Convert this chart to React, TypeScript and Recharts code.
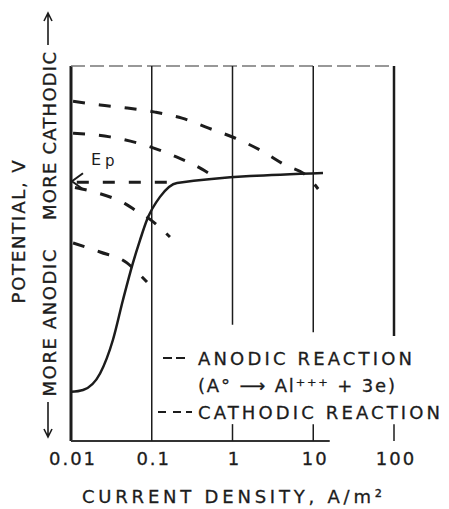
import { LineChart, Line, XAxis, YAxis, ReferenceLine, ReferenceDot, Customized } from "recharts";

// current density ticks (log scale)
const xTicks = [0.01, 0.1, 1, 10, 100];
const xTickLabels = ["0.01", "0.1", "1", "10", "100"];

// potential is unitless here, 0 = bottom of the frame, 100 = top
const anodic = [
  { x: 0.01, y: 13.1 },
  { x: 0.0141, y: 13.6 },
  { x: 0.0229, y: 18 },
  { x: 0.0331, y: 27 },
  { x: 0.044, y: 37.6 },
  { x: 0.0585, y: 47.5 },
  { x: 0.0714, y: 53.5 },
  { x: 0.0873, y: 59 },
  { x: 0.1265, y: 65.1 },
  { x: 0.2055, y: 68.8 },
  { x: 13.2, y: 71.5 },
];

const cathodicA = [
  { x: 0.0106, y: 90.6 },
  { x: 0.0229, y: 89.6 },
  { x: 0.0493, y: 88.8 },
  { x: 0.1096, y: 87.7 },
  { x: 0.237, y: 86.1 },
  { x: 0.497, y: 83.5 },
  { x: 1.07, y: 80.8 },
  { x: 2.19, y: 77.6 },
  { x: 4.47, y: 73.6 },
  { x: 8.61, y: 70.4 },
  { x: 11.5, y: 67.2 },
];

const cathodicB = [
  { x: 0.0106, y: 82.1 },
  { x: 0.0304, y: 81.1 },
  { x: 0.0824, y: 78.9 },
  { x: 0.2055, y: 75.7 },
  { x: 0.419, y: 72.5 },
  { x: 0.574, y: 70.7 },
];

const cathodicC = [
  { x: 0.0112, y: 67.6 },
  { x: 0.021, y: 66.2 },
  { x: 0.0467, y: 63.3 },
  { x: 0.0676, y: 61.1 },
  { x: 0.0899, y: 59.5 },
  { x: 0.116, y: 57.6 },
  { x: 0.168, y: 54.4 },
];

const cathodicD = [
  { x: 0.0106, y: 52.8 },
  { x: 0.0229, y: 50.4 },
  { x: 0.0493, y: 47.5 },
  { x: 0.0714, y: 44.3 },
  { x: 0.0873, y: 42.4 },
];

const epLevel = 69;
const epLine = [
  { x: 0.0118, y: epLevel },
  { x: 0.2, y: epLevel },
];

// vertical frame / grid lines and how far down they reach
const gridX = [0.1, 1, 10, 100];
const gridLow = [0, 31, 29, 28];
const tickMarks = [1, 10, 100];

const FONT = "'DejaVu Sans', sans-serif";
const INK = "#1c1c1c";
const DASH = "12 14";

const XTick = (props: any) => {
  const { x, y, payload } = props;
  const i = xTicks.indexOf(payload.value);
  return (
    <text x={x + 2} y={y} dy={24} textAnchor="middle" fontSize={18} fontFamily={FONT} fill={INK} stroke={INK} strokeWidth={0.3} letterSpacing={2}>
      {xTickLabels[i]}
    </text>
  );
};

const EpMarker = (props: any) => {
  const { x, y } = props.viewBox;
  return (
    <g>
      <path d={`M${x + 13},${y - 8} L${x + 2},${y} L${x + 13},${y + 8}`} fill="none" stroke={INK} strokeWidth={2} />
      <text x={x + 21} y={y - 16} fontSize={16} fontFamily={FONT} fill={INK}>E</text>
      <text x={x + 35} y={y - 15} fontSize={15} fontFamily={FONT} fill={INK}>p</text>
    </g>
  );
};

const Texts = () => (
  <g fontFamily={FONT} fill={INK} stroke={INK} strokeWidth={0.3} fontSize={18}>
    {/* y axis titles */}
    <text x={18} y={232} transform="rotate(-90 18 232)" textAnchor="middle" dominantBaseline="central" textLength={143} lengthAdjust="spacing">
      POTENTIAL, V
    </text>
    <text x={49} y={323} transform="rotate(-90 49 323)" textAnchor="middle" dominantBaseline="central" textLength={147} lengthAdjust="spacing">
      MORE ANODIC
    </text>
    <text x={49} y={136} transform="rotate(-90 49 136)" textAnchor="middle" dominantBaseline="central" textLength={168} lengthAdjust="spacing">
      MORE CATHODIC
    </text>
    <path d="M48,402 L48,437 M44,429 L48,437 L52,429" fill="none" stroke={INK} strokeWidth={1.6} />
    <path d="M48,45 L48,13 M44,21 L48,13 L52,21" fill="none" stroke={INK} strokeWidth={1.6} />

    {/* x axis title */}
    <text x={232} y={503} textAnchor="middle" textLength={300} lengthAdjust="spacing">
      CURRENT DENSITY, A/m²
    </text>

    {/* legend */}
    <path d="M163,358 L172,358 M176,358 L185,358" stroke={INK} strokeWidth={2} />
    <text x={198} y={365} textLength={214} lengthAdjust="spacing">ANODIC REACTION</text>
    <text x={198} y={392} textLength={197} lengthAdjust="spacing">(A° ⟶ Al⁺⁺⁺ + 3e)</text>
    <path d="M158,412 L166,412 M173,412 L181,412 M186,412 L192,412" stroke={INK} strokeWidth={2} />
    <text x={198} y={419} textLength={242} lengthAdjust="spacing">CATHODIC REACTION</text>
  </g>
);

export default function App() {
  return (
    <div style={{ position: "absolute", left: 0, top: 0, background: "#fff" }}>
      <LineChart width={449} height={509} margin={{ top: 66, right: 55, bottom: 48, left: 71 }}>
        <XAxis
          dataKey="x"
          type="number"
          scale="log"
          domain={[0.01, 100]}
          ticks={xTicks}
          allowDataOverflow
          axisLine={false}
          tickLine={false}
          tickSize={0}
          tickMargin={0}
          height={20}
          tick={<XTick />}
        />
        <YAxis type="number" domain={[0, 100]} hide allowDataOverflow />

        {/* frame */}
        <ReferenceLine segment={[{ x: 0.01, y: 0 }, { x: 0.01, y: 100 }]} stroke={INK} strokeWidth={3} ifOverflow="visible" />
        <ReferenceLine segment={[{ x: 0.01, y: 100 }, { x: 100, y: 100 }]} stroke="#777" strokeWidth={1.5} strokeDasharray="14 5" ifOverflow="visible" />
        <ReferenceLine segment={[{ x: 0.01, y: 0 }, { x: 16, y: 0 }]} stroke="#333" strokeWidth={2} ifOverflow="visible" />
        {gridX.map((gx, i) => (
          <ReferenceLine
            key={`g${gx}`}
            segment={[{ x: gx, y: gridLow[i] }, { x: gx, y: 100 }]}
            stroke={INK}
            strokeWidth={gx === 100 ? 2.5 : 1.5}
            ifOverflow="visible"
          />
        ))}
        {tickMarks.map((tx) => (
          <ReferenceLine key={`t${tx}`} segment={[{ x: tx, y: 0 }, { x: tx, y: 4.5 }]} stroke={INK} strokeWidth={1.5} ifOverflow="visible" />
        ))}

        {/* cathodic reactions */}
        {[cathodicA, cathodicB, cathodicC, cathodicD].map((d, i) => (
          <Line
            key={`c${i}`}
            data={d}
            dataKey="y"
            type="monotone"
            stroke={INK}
            strokeWidth={3}
            strokeDasharray={DASH}
            dot={false}
            activeDot={false}
            isAnimationActive={false}
          />
        ))}
        <Line data={epLine} dataKey="y" type="linear" stroke={INK} strokeWidth={3} strokeDasharray={DASH} dot={false} activeDot={false} isAnimationActive={false} />

        {/* anodic polarization curve */}
        <Line data={anodic} dataKey="y" type="monotone" stroke={INK} strokeWidth={2.5} dot={false} activeDot={false} isAnimationActive={false} />

        <ReferenceDot x={0.01} y={epLevel} r={1} fill="none" stroke="none" ifOverflow="visible" label={<EpMarker />} />
        <Customized component={Texts} />
      </LineChart>
    </div>
  );
}
